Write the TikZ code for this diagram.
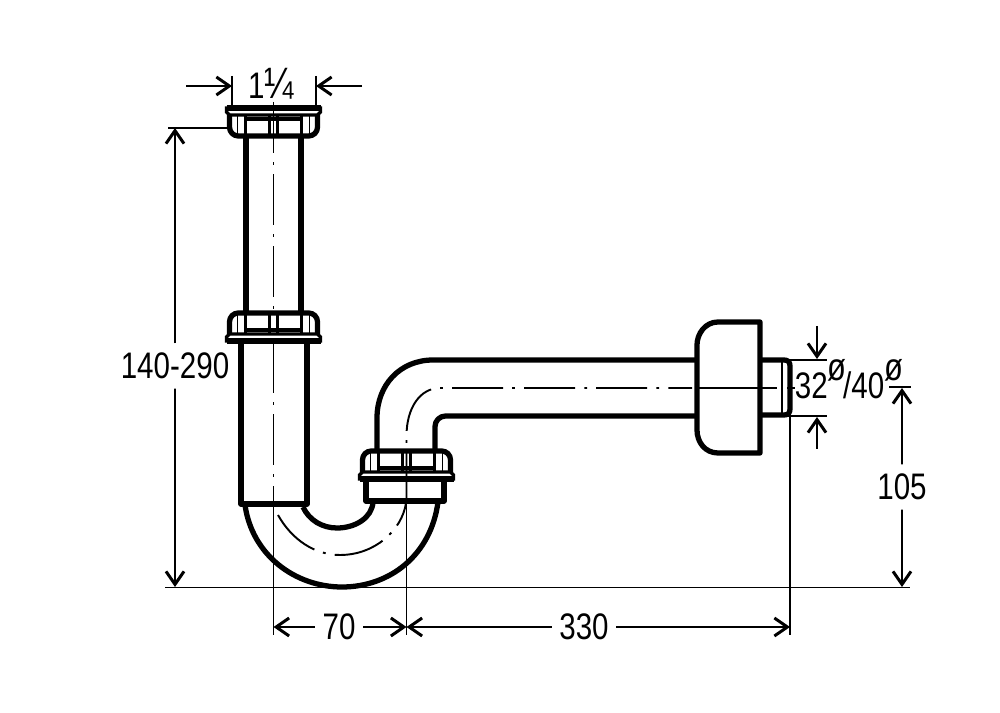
\documentclass[tikz,border=0pt]{standalone}
\usepackage{fontspec}
\setmainfont{Liberation Sans}
\usetikzlibrary{arrows.meta}
\newcommand{\dia}{\raisebox{.5em}{\fontsize{11}{14}\selectfont ø}}
\tikzset{
    wall/.style={line width=1.5pt, line join=round},
    fine/.style={line width=.55pt},
    thickish/.style={line width=.95pt},
    hair/.style={line width=.45pt},
    axis/.style={line width=.55pt, dash pattern=on 14.5pt off 2.6pt on .8pt off 2.6pt},
    dimline/.style={line width=.55pt, -{Straight Barb[length=1.3mm,width=1.8mm,line width=.85pt]}},
    dimtext/.style={inner sep=2.5pt, font=\fontsize{10.5}{12}\selectfont, xscale=.8}
}
\begin{document}
\begin{tikzpicture}[x=.01cm, y=-.01cm]
    \useasboundingbox (0,0) rectangle (1000,713);
    % union nuts: centre, flange edge, direction
    \foreach \cx/\fy/\dir in {273.5/108/-1, 273.5/341/1, 406.5/479/1}{
        \begin{scope}[shift={(\cx,\fy)}, yscale=\dir]
            \draw[wall, rounded corners=2.5pt] (-44,-7) -- (-44,-28) -- (44,-28) -- (44,-7);
            \draw[thickish, fill=white] (-47,0) -- (-47,-4) -- (-44,-7) -- (44,-7) -- (47,-4) -- (47,0) -- cycle;
            \draw[wall] (-47,0) -- (47,0);
            \foreach \fx in {-28,-4,4,28}{
                \draw[thickish] (\fx,-7) -- (\fx,-28);
            }
            \foreach \fx in {-36,36}{
                \draw[fine] (\fx,-7) -- (\fx,-28);
            }
            \draw[thickish] (-28,-11) -- (28,-11);
        \end{scope}
    }
    % pipes
    \draw[wall] (246,136) -- (246,313) (301,136) -- (301,313);
    \draw[wall] (241,342) -- (241,504) -- (307,504) -- (307,342);
    \draw[wall] (366,480) -- (366,501) -- (444,501) -- (444,480);
    % bend
    \draw[wall] (245,505) .. controls (252,555) and (295,587) .. (342,587) .. controls (390,587) and (431,555) .. (438,502);
    \draw[wall] (303,507) .. controls (309,520) and (322,528) .. (337,528) .. controls (355,528) and (372,518) .. (373,502);
    \draw[wall] (377,451) -- (377,418) .. controls (377,385) and (400,360) .. (433,360) -- (697,360);
    \draw[wall, rounded corners=3pt] (435,451) -- (435,416) -- (697,416);
    % wall rosette
    \draw[wall] (760,322) -- (718,322) .. controls (705,322) and (697,334) .. (697,345) -- (697,430) .. controls (697,442) and (705,453) .. (718,453) -- (760,453) -- cycle;
    \draw[wall] (760,360) -- (784,360) .. controls (788,360) and (790,362) .. (790,366) -- (790,409) .. controls (790,413) and (788,415) .. (784,415) -- (760,415);
    \draw[fine] (782,361) -- (782,414);
    % axes
    \draw[axis] (273.5,102) -- (273.5,313);
    \draw[axis] (273.5,342) -- (273.5,503);
    \draw[axis] (406.5,503) -- (406.5,436) .. controls (406.5,408) and (420,388) .. (440,388) -- (692,388);
    \draw[axis] (278,515) .. controls (292,540) and (315,555) .. (340,555) .. controls (375,555) and (402,530) .. (406,503);
    \draw[hair] (697,388) -- (777,388) (787,388) -- (795,388);
    % dimensions
    \coordinate (baseL) at (165,587.5);
    \coordinate (baseR) at (910,587.5);
    \draw[hair] (baseL) -- (baseR);
    \draw[hair] (232,76) -- (232,107) (316,76) -- (316,107);
    \draw[hair] (168,128) -- (230,128);
    \draw[hair] (273.5,503) -- (273.5,635) (406.5,503) -- (406.5,635) (790,415) -- (790,635);
    \draw[hair] (785,360) -- (827,360) (785,416) -- (827,416);
    \draw[hair] (889,387) -- (911,387);
    \coordinate (topA) at (186,86);
    \coordinate (topB) at (232,86);
    \coordinate (topC) at (362,86);
    \coordinate (topD) at (316,86);
    \draw[dimline] (topA) -- (topB);
    \draw[dimline] (topC) -- (topD);
    \node[dimtext] (lblTop) at (271,84) {1{\fontsize{12.5}{14}\selectfont ¼}};
    \node[dimtext] (lblLen) at (175,366) {140-290};
    \draw[dimline] (lblLen) -- (175,128);
    \draw[dimline] (lblLen) -- (175,587);
    \node[dimtext] (lblHgt) at (902,487) {105};
    \draw[dimline] (lblHgt) -- (902,388);
    \draw[dimline] (lblHgt) -- (902,587);
    \node[dimtext] (lblSev) at (339,627) {70};
    \draw[dimline] (lblSev) -- (273.5,627);
    \draw[dimline] (lblSev) -- (406.5,627);
    \node[dimtext] (lblRun) at (584,627) {330};
    \draw[dimline] (lblRun) -- (406.5,627);
    \draw[dimline] (lblRun) -- (790,627);
    \draw[dimline] (817,326) -- (817,359);
    \draw[dimline] (817,449) -- (817,417);
    \node[dimtext] (lblDia) at (849,379) {32\dia\kern-.12em/40\dia};
\end{tikzpicture}
\end{document}
